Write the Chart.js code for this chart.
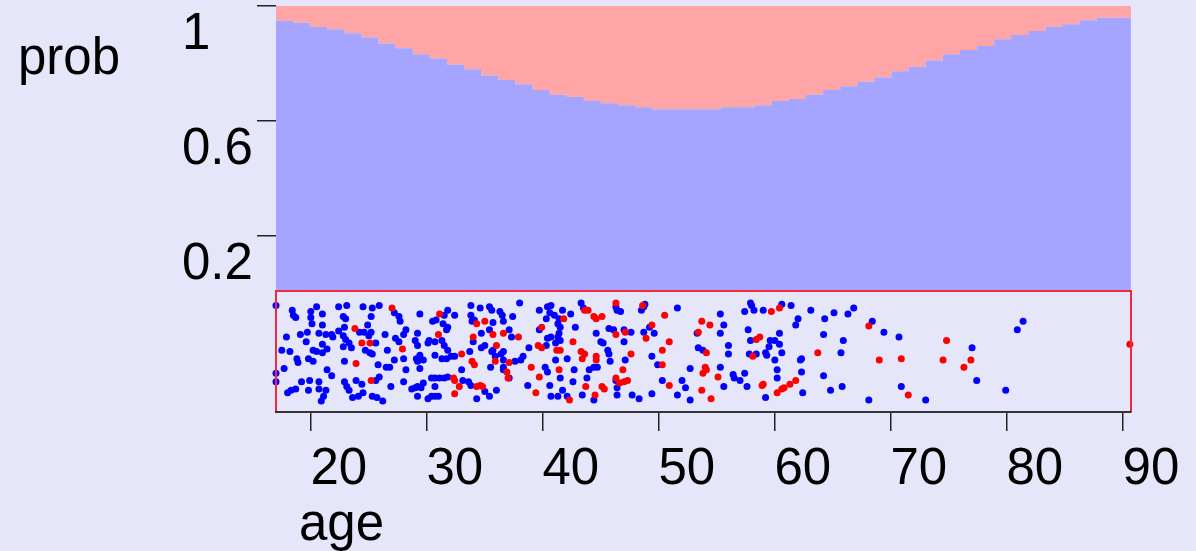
<!DOCTYPE html>
<html>
<head>
<meta charset="utf-8">
<script src="https://cdn.jsdelivr.net/npm/chart.js@4.4.1/dist/chart.umd.min.js"></script>
<style>
  html, body { margin: 0; padding: 0; background: #e6e6fa; }
  #wrap { width: 1196px; height: 551px; position: relative; }
</style>
</head>
<body>
<div id="wrap"><canvas id="chart"></canvas></div>
<script>
// axis labels and ticks
const xName = 'age';
const yName = 'prob';
const ageMin = 17;
const ageMax = 90.7;
const ageTicks = [20, 30, 40, 50, 60, 70, 80, 90];
const probTicks = [0.2, 0.6, 1];

// left edges of the 50 age bins (plus the closing edge)
const ageBins = [17.00, 18.47, 19.95, 21.42, 22.90, 24.37, 25.84, 27.32, 28.79, 30.26,
  31.74, 33.21, 34.69, 36.16, 37.63, 39.11, 40.58, 42.05, 43.53, 45.00,
  46.48, 47.95, 49.42, 50.90, 52.37, 53.85, 55.32, 56.79, 58.27, 59.74,
  61.21, 62.69, 64.16, 65.64, 67.11, 68.58, 70.06, 71.53, 73.00, 74.48,
  75.95, 77.43, 78.90, 80.37, 81.85, 83.32, 84.79, 86.27, 87.74, 89.22, 90.69];

// probability of the blue class in each bin
const probBlue = [0.957, 0.949, 0.942, 0.927, 0.919, 0.905, 0.890, 0.869, 0.853, 0.832,
  0.817, 0.795, 0.780, 0.758, 0.742, 0.727, 0.707, 0.691, 0.683, 0.669,
  0.661, 0.654, 0.647, 0.640, 0.640, 0.640, 0.640, 0.647, 0.647, 0.654,
  0.669, 0.676, 0.691, 0.707, 0.720, 0.736, 0.751, 0.773, 0.788, 0.810,
  0.832, 0.847, 0.861, 0.884, 0.899, 0.913, 0.928, 0.936, 0.950, 0.959];

// observations: [age, jitter]
const bluePts = [
  [17.0,0.88],[17.0,0.32],[17.0,0.25],[18.4,0.84],[18.5,0.80],[18.7,0.78],[17.9,0.62],[17.5,0.51],
  [18.2,0.50],[18.8,0.44],[18.9,0.41],[17.7,0.36],[19.6,0.58],[19.1,0.64],[19.7,0.66],[20.0,0.83],
  [20.0,0.78],[20.5,0.87],[21.0,0.81],[20.1,0.73],[20.7,0.65],[21.0,0.72],[21.3,0.64],[21.8,0.64],
  [21.9,0.62],[21.0,0.56],[20.5,0.50],[20.2,0.51],[21.0,0.49],[21.4,0.52],[19.8,0.44],[20.2,0.42],
  [21.4,0.35],[21.8,0.30],[19.2,0.25],[19.9,0.26],[20.7,0.25],[20.7,0.19],[19.8,0.18],[18.3,0.18],
  [18.0,0.16],[18.7,0.19],[21.3,0.18],[21.1,0.13],[20.9,0.09],[22.4,0.87],[23.1,0.88],[22.8,0.79],
  [23.0,0.77],[22.9,0.70],[22.4,0.67],[22.8,0.63],[23.3,0.57],[22.8,0.54],[23.5,0.53],[23.0,0.60],
  [24.2,0.66],[24.9,0.72],[25.3,0.86],[25.2,0.79],[24.5,0.87],[24.6,0.66],[25.2,0.66],[25.0,0.63],
  [24.7,0.51],[25.1,0.49],[25.3,0.48],[25.6,0.57],[26.4,0.64],[26.6,0.51],[25.9,0.88],[27.2,0.82],
  [27.6,0.79],[27.7,0.75],[28.2,0.68],[28.0,0.64],[27.3,0.61],[27.6,0.58],[27.2,0.43],[28.0,0.44],
  [28.2,0.35],[26.8,0.37],[25.8,0.39],[26.5,0.37],[25.9,0.29],[25.6,0.26],[26.9,0.21],[28.0,0.25],
  [28.7,0.19],[29.0,0.20],[23.6,0.12],[23.3,0.18],[23.1,0.21],[23.9,0.26],[24.5,0.16],[24.4,0.23],
  [25.3,0.13],[25.7,0.12],[26.2,0.09],[22.9,0.25],[24.1,0.13],[22.9,0.42],
  [29.4,0.81],[29.2,0.65],[29.0,0.59],[29.2,0.55],[29.4,0.47],[29.1,0.44],[29.2,0.42],[29.7,0.43],
  [29.4,0.36],[29.2,0.21],[29.5,0.20],[29.7,0.24],[30.2,0.59],[30.1,0.57],[30.7,0.58],[30.7,0.47],
  [31.3,0.44],[31.7,0.44],[32.1,0.46],[32.4,0.46],[31.3,0.59],[31.5,0.55],[31.8,0.51],[31.7,0.68],
  [31.8,0.70],[31.4,0.73],[31.5,0.80],[31.8,0.84],[32.4,0.80],[30.8,0.76],[30.5,0.75],[30.4,0.28],
  [30.7,0.28],[31.1,0.28],[31.5,0.28],[31.8,0.29],[30.7,0.21],[30.4,0.13],[30.7,0.13],[31.0,0.13],
  [30.1,0.11],[29.2,0.13],[33.0,0.35],[33.1,0.26],[33.7,0.50],[34.0,0.58],[33.8,0.80],[33.9,0.75],
  [34.1,0.76],[33.8,0.88],[34.6,0.86],[35.4,0.87],[35.6,0.84],[36.3,0.83],[36.5,0.80],[35.7,0.74],
  [35.4,0.68],[34.7,0.65],[34.7,0.53],[35.0,0.55],[35.7,0.51],[35.9,0.46],[35.5,0.37],[35.6,0.50],
  [36.4,0.48],[36.6,0.43],[36.6,0.37],[36.6,0.50],[37.4,0.79],[37.1,0.68],[37.3,0.62],[36.6,0.75],
  [33.6,0.25],[33.8,0.22],[34.3,0.11],[35.0,0.17],[35.4,0.13],[36.0,0.18],[36.6,0.35],[37.1,0.28],
  [37.6,0.42],[38.1,0.43],[38.3,0.46],[38.8,0.53],[38.7,0.22],[38.0,0.90],[39.7,0.84],[40.4,0.87],
  [40.7,0.88],[40.6,0.82],[40.3,0.77],[39.7,0.68],[40.4,0.61],[40.7,0.62],[40.3,0.55],[40.2,0.37],
  [40.4,0.33],[40.6,0.22],[40.7,0.13],
  [41.7,0.84],[42.4,0.81],[43.3,0.90],[43.5,0.86],[41.0,0.80],[41.4,0.77],[41.3,0.73],[41.5,0.70],
  [42.8,0.70],[41.4,0.65],[41.3,0.62],[41.5,0.59],[41.1,0.57],[41.1,0.43],[42.1,0.44],[42.7,0.35],
  [41.5,0.28],[42.6,0.25],[41.7,0.18],[41.3,0.13],[42.1,0.13],[43.4,0.14],[44.4,0.10],[43.8,0.28],
  [44.0,0.35],[44.4,0.37],[44.7,0.37],[44.6,0.65],[45.0,0.58],[45.2,0.57],[45.6,0.51],[45.7,0.48],
  [45.8,0.42],[45.7,0.69],[46.1,0.68],[46.4,0.84],[46.3,0.87],[46.7,0.83],[47.0,0.68],[47.0,0.58],
  [47.6,0.66],[47.1,0.43],[46.3,0.26],[46.4,0.20],[46.4,0.14],[47.7,0.14],[48.3,0.11],[49.4,0.15],
  [48.7,0.87],[48.8,0.89],[48.5,0.84],[48.7,0.66],[49.2,0.70],[49.6,0.65],[49.4,0.46],[49.9,0.39],
  [50.3,0.26],[51.6,0.86],[52.0,0.26],[52.3,0.20],[51.6,0.14],[52.7,0.10],[52.7,0.36],
  [55.3,0.81],[55.6,0.72],[55.3,0.65],[53.3,0.65],[56.0,0.55],[56.0,0.48],[53.4,0.53],[53.8,0.51],
  [55.3,0.37],[55.6,0.21],[56.4,0.31],[56.5,0.28],[57.0,0.26],[57.4,0.32],[57.6,0.21],[57.9,0.90],
  [58.0,0.88],[57.4,0.83],[58.2,0.84],[59.0,0.84],[60.6,0.89],[61.4,0.88],[63.1,0.84],[62.0,0.77],
  [61.8,0.72],[64.3,0.77],[65.1,0.82],[57.7,0.68],[57.9,0.59],[60.4,0.65],[60.0,0.59],[59.6,0.59],
  [59.5,0.54],[60.4,0.56],[60.6,0.49],[57.8,0.48],[58.4,0.48],[59.2,0.49],[59.3,0.47],[60.0,0.43],
  [60.2,0.35],[60.2,0.28],[62.3,0.44],[62.2,0.43],[62.3,0.33],[64.2,0.64],[64.2,0.30],[65.9,0.59],
  [65.7,0.49],[65.8,0.21],[64.8,0.18],[62.4,0.16],[59.2,0.12],
  [66.3,0.81],[66.8,0.86],[68.4,0.75],[69.4,0.66],[70.7,0.62],[68.1,0.10],[70.9,0.21],[73.0,0.10],
  [77.0,0.53],[77.4,0.26],[79.9,0.18],[80.9,0.68],[81.4,0.75]
];

const redPts = [
  [23.8,0.69],[23.9,0.40],[24.4,0.57],[25.1,0.57],[25.2,0.26],[27.9,0.52],[27.0,0.86],
  [31.1,0.81],[31.0,0.64],[34.3,0.73],[35.0,0.75],[34.0,0.62],[35.7,0.64],[36.6,0.65],[37.9,0.62],
  [33.0,0.48],[33.9,0.42],[34.1,0.39],[36.0,0.55],[35.9,0.42],[37.1,0.41],[39.0,0.37],[36.9,0.33],
  [37.0,0.28],[32.3,0.28],[32.4,0.26],[32.8,0.21],[32.4,0.15],[34.3,0.21],[34.6,0.22],[34.8,0.21],
  [39.9,0.70],[39.6,0.55],[39.9,0.53],[39.7,0.29],[39.4,0.16],
  [41.8,0.77],[43.6,0.84],[43.9,0.84],[44.4,0.79],[44.6,0.77],[45.1,0.79],[46.3,0.90],[48.6,0.88],
  [50.5,0.80],[42.6,0.58],[41.2,0.51],[41.5,0.51],[43.3,0.50],[43.6,0.48],[43.4,0.44],[44.6,0.46],
  [44.6,0.43],[41.4,0.35],[46.9,0.35],[46.3,0.28],[46.6,0.24],[47.0,0.25],[47.3,0.26],[45.1,0.21],
  [45.3,0.19],[43.7,0.21],[44.5,0.14],[42.3,0.10],[47.6,0.48],[46.3,0.64],[47.1,0.66],[49.4,0.72],
  [48.9,0.61],[50.9,0.58],[50.3,0.51],[50.3,0.39],[50.9,0.22],
  [53.7,0.75],[54.4,0.72],[53.4,0.66],[54.1,0.49],[54.0,0.37],[54.1,0.35],[53.8,0.32],[55.1,0.29],
  [53.7,0.18],[54.5,0.11],[58.4,0.60],[58.7,0.62],[58.1,0.46],[59.7,0.83],[60.4,0.86],[58.9,0.22],
  [59.0,0.23],[60.2,0.16],[60.6,0.19],[60.8,0.20],[61.3,0.23],[61.8,0.26],[63.7,0.49],
  [68.1,0.71],[69.0,0.43],[70.9,0.44],[71.5,0.14],[74.8,0.59],[74.5,0.43],[76.3,0.37],[76.9,0.43],
  [90.6,0.56]
];

const FONT = "'Liberation Sans', Arial, sans-serif";
Chart.defaults.font.family = FONT;

const areaData = ageBins.map((a, i) => ({ x: a, y: probBlue[Math.min(i, probBlue.length - 1)] }));

// red frame around the jittered strip (bottom side is the x axis line)
const stripFrame = {
  id: 'stripFrame',
  afterDatasetsDraw(chart) {
    const { ctx, chartArea } = chart;
    const yj = chart.scales.yj;
    const top = yj.getPixelForValue(1);
    const bottom = yj.getPixelForValue(0);
    ctx.save();
    ctx.strokeStyle = '#f2283c';
    ctx.lineWidth = 2;
    ctx.beginPath();
    ctx.moveTo(chartArea.left, bottom);
    ctx.lineTo(chartArea.left, top);
    ctx.lineTo(chartArea.right, top);
    ctx.lineTo(chartArea.right, bottom);
    ctx.stroke();
    ctx.restore();
  }
};

// axis names, drawn like the original (horizontal, outside the axes)
const axisNames = {
  id: 'axisNames',
  afterDraw(chart) {
    const ctx = chart.ctx;
    ctx.save();
    ctx.fillStyle = '#000';
    ctx.font = '51px ' + FONT;
    ctx.textBaseline = 'alphabetic';
    ctx.fillText(yName, 18, 74);
    ctx.fillText(xName, 299, 540);
    ctx.restore();
  }
};

new Chart(document.getElementById('chart'), {
  type: 'line',
  data: {
    datasets: [
      {
        type: 'scatter',
        data: redPts.map(p => ({ x: p[0], y: p[1] })),
        yAxisID: 'yj',
        backgroundColor: '#ff0000',
        borderWidth: 0,
        pointRadius: 3.5,
        clip: false,
        order: 0
      },
      {
        type: 'scatter',
        data: bluePts.map(p => ({ x: p[0], y: p[1] })),
        yAxisID: 'yj',
        backgroundColor: '#0000ff',
        borderWidth: 0,
        pointRadius: 3.5,
        clip: false,
        order: 1
      },
      {
        data: areaData,
        yAxisID: 'y',
        stepped: 'after',
        borderWidth: 0,
        pointRadius: 0,
        backgroundColor: '#a5a5ff',
        fill: { value: 0.01 },
        order: 2
      },
      {
        data: areaData,
        yAxisID: 'y',
        stepped: 'after',
        borderWidth: 0,
        pointRadius: 0,
        backgroundColor: '#ffa5a5',
        fill: 'end',
        order: 3
      }
    ]
  },
  options: {
    responsive: true,
    maintainAspectRatio: false,
    animation: false,
    layout: { padding: { top: 6, right: 65, bottom: 0, left: 182 } },
    plugins: {
      legend: { display: false },
      tooltip: { enabled: false }
    },
    scales: {
      x: {
        type: 'linear',
        min: ageMin,
        max: ageMax,
        afterBuildTicks: s => { s.ticks = ageTicks.map(v => ({ value: v })); },
        afterFit: s => { s.height = 139; s.paddingLeft = 0; s.paddingRight = 0; },
        grid: { drawOnChartArea: false, tickLength: 19, color: '#222', lineWidth: 1.5 },
        border: { display: true, color: '#333', width: 2, z: 1 },
        ticks: {
          font: { size: 51 },
          color: '#000',
          padding: 8,
          labelOffset: 28,
          maxRotation: 0,
          autoSkip: false
        }
      },
      y: {
        type: 'linear',
        position: 'left',
        min: -0.4146,
        max: 1,
        afterBuildTicks: s => { s.ticks = probTicks.map(v => ({ value: v })); },
        afterFit: s => { s.width = 94; s.paddingTop = 0; s.paddingBottom = 0; },
        grid: { drawOnChartArea: false, tickLength: 19, color: '#222', lineWidth: 1.5 },
        border: { display: false },
        ticks: {
          font: { size: 51 },
          color: '#000',
          padding: 4,
          labelOffset: 29,
          crossAlign: 'far',
          callback: v => String(v)
        }
      },
      yj: {
        type: 'linear',
        display: false,
        min: 0,
        max: 406 / 121
      }
    }
  },
  plugins: [stripFrame, axisNames]
});
</script>
</body>
</html>
